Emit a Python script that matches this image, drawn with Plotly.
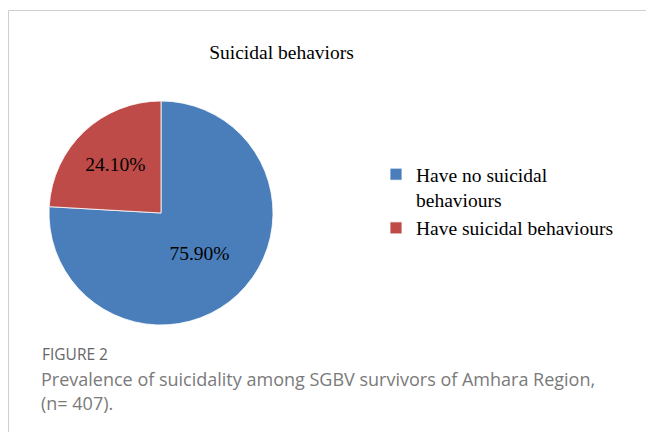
import plotly.graph_objects as go

W, H = 646, 432

labels = ["Have no suicidal<br>behaviours", "Have suicidal behaviours"]
values = [75.90, 24.10]
colors = ["#4A7EBB", "#BE4B48"]
title_text = "Suicidal behaviors"
fig_label = "FIGURE 2"
caption_lines = ["Prevalence of suicidality among SGBV survivors of Amhara Region,",
                 "(n= 407)."]

serif = "Liberation Serif, Times New Roman, serif"
sans = "Open Sans, sans-serif"

# pie geometry (pixels)
cx, cy, r = 161, 213, 112

fig = go.Figure()
fig.add_trace(go.Pie(
    labels=labels,
    values=values,
    sort=False,
    direction="clockwise",
    rotation=0,
    marker=dict(colors=colors, line=dict(color="white", width=0.8)),
    texttemplate="%{value:.2f}%",
    textposition="inside",
    insidetextorientation="horizontal",
    textfont=dict(family=serif, size=19.5, color="black"),
    domain=dict(x=[(cx - r) / W, (cx + r) / W], y=[1 - (cy + r) / H, 1 - (cy - r) / H]),
    hoverinfo="skip",
))

fig.update_layout(
    width=W, height=H,
    margin=dict(l=0, r=0, t=0, b=0),
    paper_bgcolor="white",
    plot_bgcolor="white",
    title=dict(text=title_text, x=281.5 / W, xanchor="center", y=1 - 52 / H, yanchor="middle",
               font=dict(family=serif, size=19.5, color="black")),
    showlegend=True,
    legend=dict(x=376 / W, xanchor="left", y=1 - 155 / H, yanchor="top",
                font=dict(family=serif, size=19.5, color="black"),
                valign="top", bgcolor="rgba(0,0,0,0)", tracegroupgap=0),
    shapes=[
        dict(type="line", xref="paper", yref="paper", x0=8.5 / W, x1=1, y0=1 - 10.5 / H, y1=1 - 10.5 / H,
             line=dict(color="#cfcfcf", width=1)),
        dict(type="line", xref="paper", yref="paper", x0=8.5 / W, x1=8.5 / W, y0=0, y1=1 - 10.5 / H,
             line=dict(color="#cfcfcf", width=1)),
    ],
    annotations=[
        dict(text=fig_label, xref="paper", yref="paper", x=40 / W, y=1 - 354 / H, xanchor="left",
             yanchor="middle", showarrow=False, font=dict(family=sans, size=15.5, color="#666666")),
        dict(text=caption_lines[0], xref="paper", yref="paper", x=39 / W, y=1 - 379 / H, xanchor="left",
             yanchor="middle", showarrow=False, font=dict(family=sans, size=18, color="#7a7a7a")),
        dict(text=caption_lines[1], xref="paper", yref="paper", x=39 / W, y=1 - 403 / H, xanchor="left",
             yanchor="middle", showarrow=False, font=dict(family=sans, size=18, color="#7a7a7a")),
    ],
)

fig.write_html("out.html")
